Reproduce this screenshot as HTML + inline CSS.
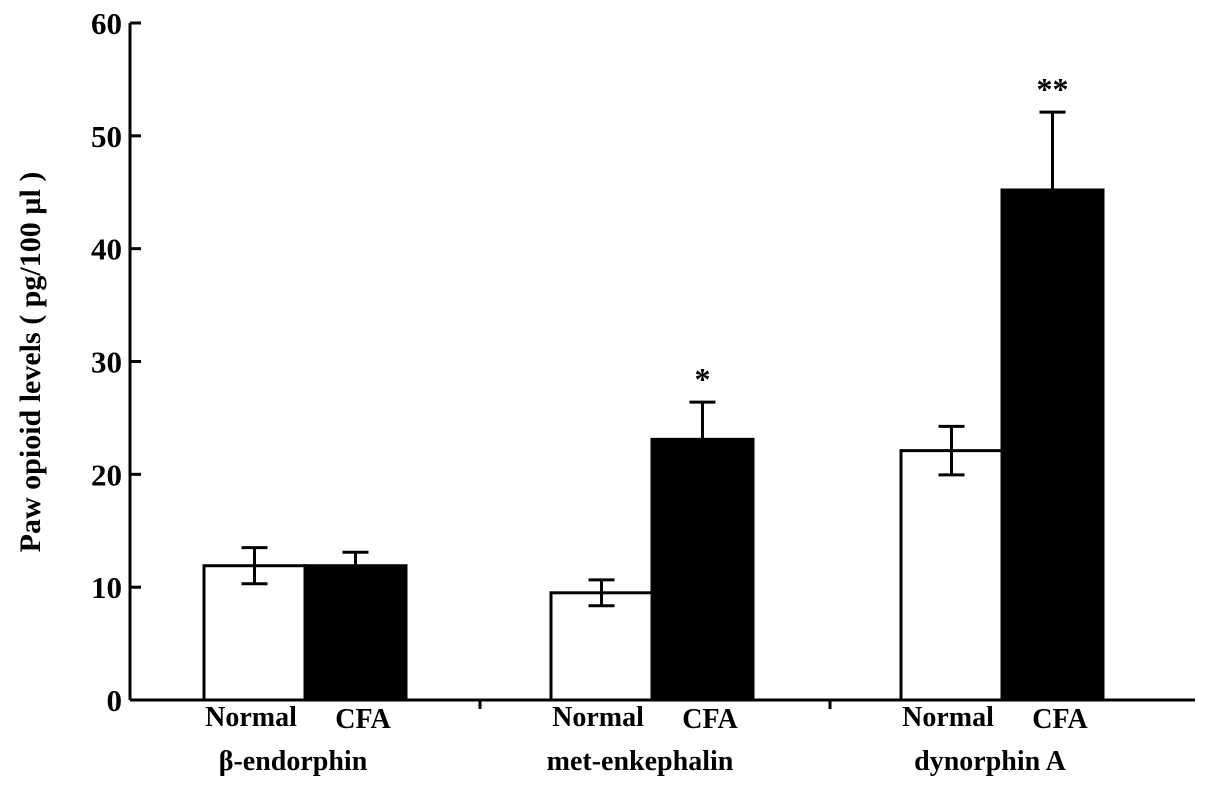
<!DOCTYPE html>
<html><head><meta charset="utf-8">
<style>
html,body{margin:0;padding:0;background:#fff;}
svg{display:block;font-family:"Liberation Serif",serif;font-weight:bold;}
</style></head>
<body>
<svg id="chart" width="1205" height="794"></svg>
<script>
const groups = ["β-endorphin","met-enkephalin","dynorphin A"];
const seriesNames = ["Normal","CFA"];
const normalVals = [11.9, 9.5, 22.1];
const normalErr = [1.6, 1.15, 2.15];
const cfaVals = [11.9, 23.1, 45.2];
const cfaErr = [1.2, 3.3, 6.9];
const sig = ["", "*", "**"];
const yTicks = [0,10,20,30,40,50,60];

const NS="http://www.w3.org/2000/svg";
const svg=document.getElementById('chart');
const x0=130, x1=1195, yBase=700, yTop=23;
const y=v=>yBase-(v/60)*(yBase-yTop);
const groupStart=[204,551,901], barW=101;
function mk(t,a,p){const e=document.createElementNS(NS,t);for(const k in a)e.setAttribute(k,a[k]);(p||svg).appendChild(e);return e;}

const ax=mk('line',{x1:x0,y1:yTop,x2:x0,y2:yBase,stroke:'#000','stroke-width':3});


const xa=mk('line',{x1:x0,y1:yBase,x2:x1,y2:yBase,stroke:'#000','stroke-width':3});


[480,830].forEach(tx=>{const t=mk('line',{x1:tx,y1:yBase,x2:tx,y2:yBase+9,stroke:'#000','stroke-width':3});

});

yTicks.forEach(v=>{
 const t=mk('line',{x1:x0,y1:y(v),x2:x0+11,y2:y(v),stroke:'#000','stroke-width':3});
 
 
 const l=mk('text',{x:x0-8,y:y(v)+11,'text-anchor':'end','font-size':31});
 l.textContent=v;
 
 
});
const yt=mk('text',{x:40,y:362,'text-anchor':'middle','font-size':30,transform:'rotate(-90 40 362)'});
yt.textContent='Paw opioid levels ( pg/100 µl )';



function errBar(cx,top,bot){
 mk('line',{x1:cx,y1:top,x2:cx,y2:bot,stroke:'#000','stroke-width':3});
 mk('line',{x1:cx-13,y1:top,x2:cx+13,y2:top,stroke:'#000','stroke-width':3});
}
groups.forEach((g,i)=>{
 const gx=groupStart[i];
 const nb=mk('rect',{x:gx,y:y(normalVals[i]),width:barW,height:yBase-y(normalVals[i]),fill:'#fff',stroke:'#000','stroke-width':3});
 
 
 const cb=mk('rect',{x:gx+barW,y:y(cfaVals[i]),width:barW,height:yBase-y(cfaVals[i]),fill:'#000',stroke:'#000','stroke-width':3});
 
 
 const nc=gx+barW/2, cc=gx+barW*1.5;
 errBar(nc,y(normalVals[i]+normalErr[i]),y(normalVals[i]-normalErr[i]));
 mk('line',{x1:nc-13,y1:y(normalVals[i]-normalErr[i]),x2:nc+13,y2:y(normalVals[i]-normalErr[i]),stroke:'#000','stroke-width':3});
 errBar(cc,y(cfaVals[i]+cfaErr[i]),y(cfaVals[i]));
 if(sig[i]){const s=mk('text',{x:cc,y:y(cfaVals[i]+cfaErr[i])-12,'text-anchor':'middle','font-size':32});
  s.textContent=sig[i];
  
  }
 const l1=mk('text',{x:gx+47,y:726,'text-anchor':'middle','font-size':28});
 l1.textContent=seriesNames[0];
 
 
 const l2=mk('text',{x:gx+159,y:728,'text-anchor':'middle','font-size':28});
 l2.textContent=seriesNames[1];
 
 
 const gl=mk('text',{x:gx+89,y:770,'text-anchor':'middle','font-size':28});
 gl.textContent=g;
 
 
});
</script>
</body></html>
